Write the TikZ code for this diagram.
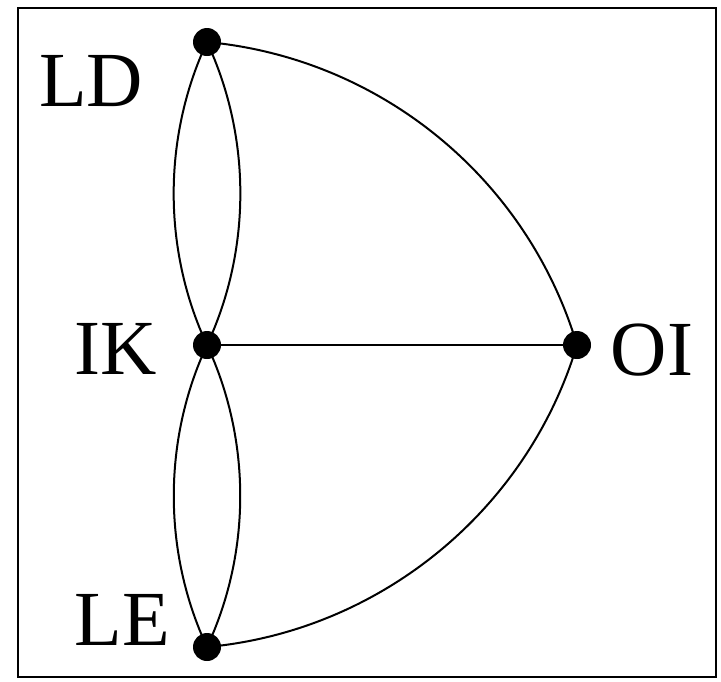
\documentclass[tikz,border=0pt]{standalone}
\usepackage{fontspec}
\setmainfont{Liberation Serif}
\begin{document}
\begin{tikzpicture}[x=0.5pt,y=0.5pt,
  vertex/.style={circle,fill=black,inner sep=0pt,minimum size=14pt},
  lbl/.style={inner sep=0pt,font=\fontsize{39}{40}\selectfont},
  edge/.style={line width=1pt,black}]
\useasboundingbox (0,0) rectangle (721,-681);
\draw[line width=1.4pt] (18,-8) rectangle (716,-677);
\node[vertex] (LD) at (207,-42) {};
\node[vertex] (IK) at (207,-345) {};
\node[vertex] (OI) at (577,-345) {};
\node[vertex] (LE) at (207,-647) {};
\draw[edge] (LD.center) to[bend left=34,looseness=0.93] (OI.center);
\draw[edge] (LE.center) to[bend right=34,looseness=0.93] (OI.center);
\draw[edge] (LD.center) to[bend left=25,looseness=0.89] (IK.center);
\draw[edge] (LD.center) to[bend right=25,looseness=0.89] (IK.center);
\draw[edge] (IK.center) to[bend left=25,looseness=0.89] (LE.center);
\draw[edge] (IK.center) to[bend right=25,looseness=0.89] (LE.center);
\draw[line width=0.8pt] (IK.center) -- (OI.center);
\node[lbl] (tLD) at (91,-81) {LD};
\node[lbl] (tIK) at (116,-349) {IK};
\node[lbl] (tOI) at (652,-350) {OI};
\node[lbl] (tLE) at (122,-620) {LE};
\end{tikzpicture}
\end{document}
